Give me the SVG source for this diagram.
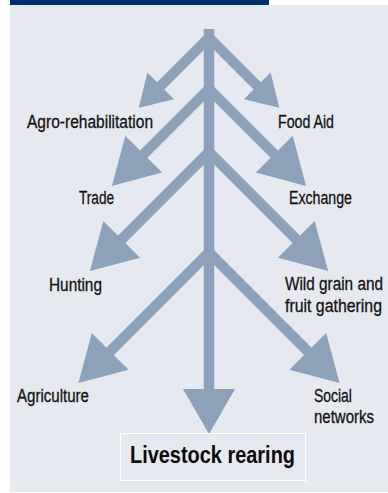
<svg xmlns="http://www.w3.org/2000/svg" width="388" height="493" viewBox="0 0 388 493">
  <defs>
    <style>
      .shaft { stroke: #8ea1bb; stroke-width: 10.5; stroke-linecap: butt; fill: none; }
      .lbl { font-family: "Liberation Sans", Arial, sans-serif; font-size: 19px; fill: #111111; stroke: #111111; stroke-width: 0.3; }
      .main { font-family: "Liberation Sans", Arial, sans-serif; font-size: 24px; font-weight: bold; fill: #0a0a0a; }
    </style>
    <marker id="headS" markerUnits="userSpaceOnUse" orient="auto" refX="1" refY="0" markerWidth="40" markerHeight="40" overflow="visible">
      <path d="M0,-18.8 L31,0 L0,18.8 Z" fill="#8ea1bb"/>
    </marker>
    <marker id="headL" markerUnits="userSpaceOnUse" orient="auto" refX="1" refY="0" markerWidth="60" markerHeight="60" overflow="visible">
      <path d="M0,-26 L45,0 L0,26 Z" fill="#8ea1bb"/>
    </marker>
  </defs>

  <rect x="0" y="0" width="388" height="493" fill="#ffffff"/>
  <rect x="10" y="0" width="259" height="5" fill="#00306b"/>
  <rect x="10" y="5" width="378" height="487" fill="#e6e9ef"/>

  <g id="connectors">
    <line class="shaft" x1="209" y1="29" x2="209" y2="390" marker-end="url(#headL)"/>
    <line class="shaft" x1="209" y1="37.6" x2="160" y2="86.6" marker-end="url(#headS)"/>
    <line class="shaft" x1="209" y1="37.6" x2="258" y2="86.6" marker-end="url(#headS)"/>
    <line class="shaft" x1="209" y1="88.9" x2="143" y2="154.9" marker-end="url(#headL)"/>
    <line class="shaft" x1="209" y1="88.9" x2="275" y2="154.9" marker-end="url(#headL)"/>
    <line class="shaft" x1="209" y1="152" x2="121" y2="240" marker-end="url(#headL)"/>
    <line class="shaft" x1="209" y1="152" x2="297" y2="240" marker-end="url(#headL)"/>
    <line class="shaft" x1="209" y1="252.5" x2="109.5" y2="352" marker-end="url(#headL)"/>
    <line class="shaft" x1="209" y1="252.5" x2="308.5" y2="352" marker-end="url(#headL)"/>
  </g>

  <g id="agro-rehabilitation"><text class="lbl" transform="translate(27 128) scale(0.82 1)" textLength="153.7" lengthAdjust="spacingAndGlyphs">Agro-rehabilitation</text></g>
  <g id="food-aid"><text class="lbl" transform="translate(278 128) scale(0.82 1)" textLength="68.3" lengthAdjust="spacingAndGlyphs">Food Aid</text></g>
  <g id="trade"><text class="lbl" transform="translate(79 204) scale(0.82 1)" textLength="42.7" lengthAdjust="spacingAndGlyphs">Trade</text></g>
  <g id="exchange"><text class="lbl" transform="translate(289 204) scale(0.82 1)" textLength="76.8" lengthAdjust="spacingAndGlyphs">Exchange</text></g>
  <g id="hunting"><text class="lbl" transform="translate(49 290.5) scale(0.82 1)" textLength="64.6" lengthAdjust="spacingAndGlyphs">Hunting</text></g>
  <g id="wild-grain">
    <text class="lbl" transform="translate(285 290) scale(0.82 1)" textLength="119.5" lengthAdjust="spacingAndGlyphs">Wild grain and</text>
    <text class="lbl" transform="translate(285 311.5) scale(0.82 1)" textLength="118.3" lengthAdjust="spacingAndGlyphs">fruit gathering</text>
  </g>
  <g id="agriculture"><text class="lbl" transform="translate(17 402) scale(0.82 1)" textLength="87.8" lengthAdjust="spacingAndGlyphs">Agriculture</text></g>
  <g id="social-networks">
    <text class="lbl" transform="translate(314 402) scale(0.82 1)" textLength="46.3" lengthAdjust="spacingAndGlyphs">Social</text>
    <text class="lbl" transform="translate(314 423) scale(0.82 1)" textLength="73.2" lengthAdjust="spacingAndGlyphs">networks</text>
  </g>
  <g id="livestock-rearing">
    <rect x="120.5" y="433.5" width="185" height="47" fill="none" stroke="#ffffff" stroke-width="1"/>
    <text class="main" transform="translate(130 463) scale(0.82 1)" textLength="201.2" lengthAdjust="spacingAndGlyphs">Livestock rearing</text>
  </g>
</svg>
